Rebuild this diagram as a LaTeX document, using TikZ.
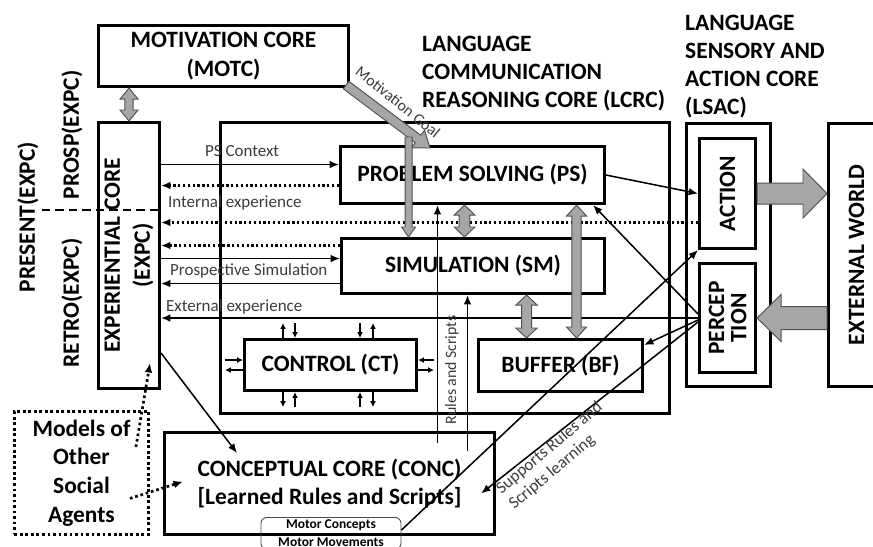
\documentclass[tikz,border=0pt]{standalone}
\usepackage{fontspec}
\setmainfont{Carlito}
\usetikzlibrary{calc,arrows.meta}
\definecolor{gfill}{RGB}{166,166,166}
\definecolor{gline}{RGB}{80,80,80}
\definecolor{lbl}{RGB}{60,60,60}
% single block arrow: start, end, shaft half width, head half width, head length
\newcommand{\gaone}[5]{%
 \filldraw[garrow] ($(#1)!#3!90:(#2)$) -- ($(#2)!#5!(#1)!#3!-90:(#1)$) -- ($(#2)!#5!(#1)!#4!-90:(#1)$) -- (#2) -- ($(#2)!#5!(#1)!#4!90:(#1)$) -- ($(#2)!#5!(#1)!#3!90:(#1)$) -- ($(#1)!#3!-90:(#2)$) -- cycle;}
% double block arrow
\newcommand{\gatwo}[5]{%
 \filldraw[garrow] (#1) -- ($(#1)!#5!(#2)!#4!90:(#2)$) -- ($(#1)!#5!(#2)!#3!90:(#2)$) -- ($(#2)!#5!(#1)!#3!-90:(#1)$) -- ($(#2)!#5!(#1)!#4!-90:(#1)$) -- (#2) -- ($(#2)!#5!(#1)!#4!90:(#1)$) -- ($(#2)!#5!(#1)!#3!90:(#1)$) -- ($(#1)!#5!(#2)!#3!-90:(#2)$) -- ($(#1)!#5!(#2)!#4!-90:(#2)$) -- cycle;}
\begin{document}
\begin{tikzpicture}[x=0.03cm,y=-0.03cm,
 box/.style={draw, line width=2.6pt, inner sep=0pt, anchor=north west},
 big/.style={font=\fontsize{20}{24}\selectfont\bfseries, align=center, text=black},
 small/.style={font=\fontsize{14.5}{17}\selectfont, text=lbl},
 arr/.style={line width=1.3pt, -{Latex[length=8pt,width=6.5pt]}},
 dotarr/.style={line width=1.9pt, dash pattern=on 1.9pt off 2.2pt, -{Latex[length=8pt,width=6.5pt]}},
 sarr/.style={line width=1.3pt, -{Latex[length=5pt,width=5pt]}},
 garrow/.style={fill=gfill, draw=gline, line width=0.8pt},
 dashline/.style={line width=2.2pt, dash pattern=on 7pt off 4.5pt}]
\useasboundingbox (0,0) rectangle (873,546);

% ---- boxes ----
\node[box, big, minimum width=7.5cm, minimum height=1.83cm] (motc) at (97,24) {MOTIVATION CORE\\(MOTC)};
\node[box, minimum width=1.83cm, minimum height=7.98cm] (expc) at (97,121) {};
\node[big, rotate=90, font=\fontsize{20}{25.5}\selectfont\bfseries] at (expc.center) {EXPERIENTIAL CORE\\(EXPC)};
\node[box, minimum width=13.47cm, minimum height=8.73cm] (lcrc) at (219,121) {};
\node[big, align=left, anchor=north west, inner sep=0pt] at (422,35.5) {LANGUAGE\\COMMUNICATION\\REASONING CORE (LCRC)};
\node[big, align=left, anchor=north west, inner sep=0pt] at (685,14.5) {LANGUAGE\\SENSORY AND\\ACTION CORE\\(LSAC)};
\node[box, minimum width=2.52cm, minimum height=7.89cm] (lsac) at (685,122) {};
\node[box, minimum width=1.68cm, minimum height=3.3cm] (action) at (698,137) {};
\node[big, rotate=90] at (action.center) {ACTION};
\node[box, minimum width=1.68cm, minimum height=3.27cm] (percep) at (698,262) {};
\node[big, rotate=90, font=\fontsize{20}{19}\selectfont\bfseries] at (percep.center) {PERCEP\\TION};
\node[box, minimum width=1.68cm, minimum height=7.89cm] (world) at (827,122) {};
\node[big, rotate=90] at (world.center) {EXTERNAL WORLD};
\node[box, big, minimum width=7.92cm, minimum height=1.71cm] (ps) at (339,145) {PROBLEM SOLVING (PS)};
\node[box, big, minimum width=7.89cm, minimum height=1.65cm] (sm) at (340,237) {SIMULATION (SM)};
\node[box, big, minimum width=5.16cm, minimum height=1.53cm] (ct) at (243,338) {CONTROL (CT)};
\node[box, big, minimum width=4.92cm, minimum height=1.56cm] (bf) at (477,338) {BUFFER (BF)};
\node[box, big, font=\fontsize{20}{24.5}\selectfont\bfseries, minimum width=9.9cm, minimum height=3.06cm] (conc) at (163,431) {CONCEPTUAL CORE (CONC)\\{[}Learned Rules and Scripts{]}};
\node[draw, line width=2.5pt, dash pattern=on 2.5pt off 2.2pt, minimum width=4.02cm, minimum height=3.69cm, anchor=north west, big, font=\fontsize{20}{24.5}\selectfont\bfseries] (models) at (13,410) {Models of\\Other\\Social\\Agents};
\node[draw=black!70, line width=0.8pt, rounded corners=5pt, minimum width=4.2cm, anchor=north, align=center, font=\fontsize{11.5}{15.4}\selectfont\bfseries, inner ysep=2pt] (motor) at (331,517) {Motor Concepts\\Motor Movements};

% ---- side labels ----
\node[big, rotate=90] at (28,217) {PRESENT(EXPC)};
\node[big, rotate=90] at (72,135) {PROSP(EXPC)};
\node[big, rotate=90] at (72,303) {RETRO(EXPC)};
\coordinate (d0) at (42,210);
\draw[dashline] (d0) -- (d0 -| expc.east);

% ---- EXPC <-> PS / SM ----
\coordinate (c1) at ([yshift=0.315cm]ps.west);
\coordinate (c2) at ([yshift=-0.315cm]ps.west);
\coordinate (c3) at ([yshift=-0.87cm]action.west);
\coordinate (c4) at ([yshift=0.615cm]sm.west);
\coordinate (c5) at ([yshift=0.225cm]sm.west);
\coordinate (c6) at ([yshift=-0.525cm]sm.west);
\coordinate (c7) at (percep.west);
\draw[arr] (c1 -| expc.east) -- (c1);
\draw[dotarr] (c2) -- (c2 -| expc.east);
\draw[dotarr] (c3) -- (c3 -| expc.east);
\draw[dotarr] (c4) -- (c4 -| expc.east);
\draw[arr] (c5 -| expc.east) -- (c5);
\draw[arr] (c6) -- (c6 -| expc.east);
\draw[arr] (c7) -- (c7 -| expc.east);
\node[small, anchor=west] at (201,151) {PS Context};
\node[small, anchor=west] at (164,203) {Internal experience};
\node[small, anchor=west] at (166,271) {Prospective Simulation};
\node[small, anchor=west] at (162,307) {External experience};

% ---- right side connectors ----
\draw[arr] (ps.east) -- (action.west);
\coordinate (c8) at ([yshift=0.12cm]percep.west);
\coordinate (c9) at ([yshift=-0.06cm]percep.west);
\coordinate (c10) at ([yshift=-0.12cm]percep.west);
\draw[arr] (c8) -- ([xshift=-0.39cm]ps.south east);
\draw[arr] (c9) -- ([yshift=-0.21cm]bf.north east);
\draw[arr] (c10) -- ([xshift=-0.45cm,yshift=-0.3cm]conc.east);
\draw[arr] ([yshift=-0.39cm]motor.north east) -- (action.south west);
\node[small, rotate=40, align=left] at (556,456) {Supports Rules and\\Scripts learning};

% ---- left connectors ----
\draw[arr] ([yshift=1.11cm]expc.south east) -- ([xshift=2.22cm,yshift=-0.66cm]conc.north west);
\draw[dotarr, line width=2.3pt, dash pattern=on 2.3pt off 2.4pt] ([xshift=-0.42cm,yshift=-1.11cm]models.north east) -- ([xshift=-0.33cm,yshift=0.81cm]expc.south east);
\draw[dotarr, line width=2.3pt, dash pattern=on 2.3pt off 2.4pt] ([xshift=-0.6cm,yshift=-0.765cm]models.east) -- ([xshift=0.6cm,yshift=0.06cm]conc.west);

% ---- CONC -> PS / SM ----
\coordinate (r1) at ([xshift=-1.05cm]ps.south);
\coordinate (r2) at ([xshift=-0.165cm]sm.south);
\draw[arr] (r1 |- conc.north) ++(0,12) -- (r1);
\draw[arr] (r2 |- conc.north) ++(0,20) -- (r2);
\node[small, rotate=90, font=\fontsize{13.5}{16}\selectfont] at (452,370) {Rules and Scripts};

% ---- control small arrows ----
\draw[sarr] ([xshift=1.2cm]ct.north west) -- ++(0,-15);
\draw[sarr] ([xshift=1.56cm,yshift=0.45cm]ct.north west) -- ++(0,15);
\draw[sarr] ([xshift=3.51cm,yshift=0.45cm]ct.north west) -- ++(0,15);
\draw[sarr] ([xshift=3.9cm]ct.north west) -- ++(0,-15);
\draw[sarr] ([xshift=1.2cm]ct.south west) -- ++(0,15);
\draw[sarr] ([xshift=1.56cm,yshift=-0.45cm]ct.south west) -- ++(0,-15);
\draw[sarr] ([xshift=3.51cm,yshift=-0.45cm]ct.south west) -- ++(0,-15);
\draw[sarr] ([xshift=3.9cm]ct.south west) -- ++(0,15);
\draw[sarr] ([xshift=-0.54cm,yshift=0.15cm]ct.west) -- ++(18,0);
\draw[sarr] ([yshift=-0.15cm]ct.west) -- ++(-18,0);
\draw[sarr] ([xshift=0.48cm,yshift=0.15cm]ct.east) -- ++(-16,0);
\draw[sarr] ([yshift=-0.15cm]ct.east) -- ++(16,0);

% ---- gray block arrows ----
\coordinate (g1a) at (expc.north |- motc.south);
\coordinate (g1b) at (expc.north);
\gatwo{g1a}{g1b}{0.125cm}{0.27cm}{0.33cm}
\coordinate (g2a) at ([xshift=-0.12cm,yshift=0.09cm]motc.south east);
\coordinate (g2b) at ([xshift=2.73cm,yshift=-0.09cm]ps.north west);
\gaone{g2a}{g2b}{0.14cm}{0.33cm}{0.45cm}
\node[small, rotate=-39, font=\fontsize{13.5}{16}\selectfont] at (398,102) {Motivation Goal};
\coordinate (g3a) at ([xshift=-1.92cm,yshift=0.24cm]ps.north);
\coordinate (g3b) at (g3a |- sm.north);
\gaone{g3a}{g3b}{0.105cm}{0.21cm}{0.3cm}
\coordinate (g4a) at ([xshift=-0.24cm]ps.south);
\coordinate (g4b) at (g4a |- sm.north);
\gatwo{g4a}{g4b}{0.16cm}{0.31cm}{0.3cm}
\coordinate (g5a) at ([xshift=3.12cm]ps.south);
\coordinate (g5b) at (g5a |- bf.north);
\gatwo{g5a}{g5b}{0.14cm}{0.3cm}{0.33cm}
\coordinate (g6a) at ([xshift=1.605cm]sm.south);
\coordinate (g6b) at (g6a |- bf.north);
\gatwo{g6a}{g6b}{0.15cm}{0.32cm}{0.3cm}
\coordinate (g7a) at (action.east);
\coordinate (g7b) at (action.east -| world.west);
\gaone{g7a}{g7b}{0.315cm}{0.735cm}{0.72cm}
\coordinate (g8a) at (percep.east -| world.west);
\coordinate (g8b) at (percep.east);
\gaone{g8a}{g8b}{0.345cm}{0.705cm}{0.72cm}
\end{tikzpicture}
\end{document}
